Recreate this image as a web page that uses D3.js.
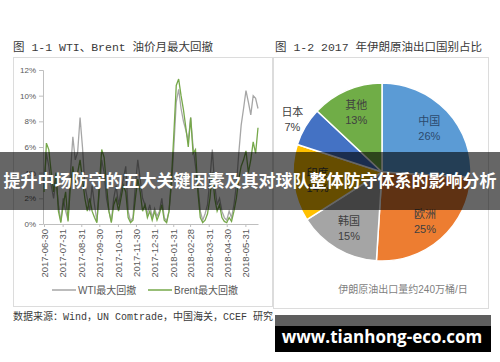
<!DOCTYPE html>
<html>
<head>
<meta charset="utf-8">
<script src="https://d3js.org/d3.v7.min.js"></script>
<style>
  body { margin: 0; background: #fff; }
  svg text { font-family: "Liberation Sans", "Noto Sans CJK SC", sans-serif; }
  .title { font-family: "Liberation Mono", "Noto Sans CJK SC", monospace; font-size: 11.5px; fill: #3a3a3a; }
  .axis path, .axis line { stroke: #bfbfbf; }
  .axis text { fill: #595959; }
</style>
</head>
<body>
<svg id="chart" width="500" height="362"></svg>
<script>
// ---- data ----
const startDate = "2017-06-30", stepDays = 4;

const wti = [3.0, 5.5, 4.5, 3.0, 2.0, 3.5, 1.5, 0.2, 2.0, 1.0,
             0.3, 4.0, 6.8, 5.0, 5.6, 8.3, 6.0, 3.0, 2.0, 1.0,
             3.0, 1.5, 0.2, 2.5, 5.0, 4.0, 2.0, 1.0, 0.2, 2.0,
             3.0, 1.5, 2.5, 3.5, 4.5, 1.0, 0.2, 0.5, 3.0, 5.0,
             3.5, 2.0, 1.5, 0.8, 1.5, 0.5, 1.2, 0.6, 1.0, 2.0,
             0.5, 0.2, 1.0, 3.0, 6.0, 9.5, 10.5, 9.0, 8.0, 7.3,
             6.5, 8.3, 6.0, 4.5, 3.0, 1.0, 0.3, 0.8, 1.5, 3.5,
             5.8, 3.0, 1.5, 2.0, 1.0, 0.5, 0.3, 1.0, 0.5, 1.5,
             3.0, 5.5, 7.7, 9.0, 10.4, 9.5, 8.5, 10.0, 9.8, 9.0];

const brent = [2.5, 6.3, 5.8, 4.0, 2.5, 4.0, 1.0, 0.1, 1.5, 2.5,
               0.2, 3.0, 4.5, 3.0, 4.0, 5.0, 3.5, 2.0, 1.0, 2.0,
               1.0, 0.5, 0.1, 3.0, 5.8, 5.2, 3.0, 1.0, 0.1, 1.5,
               2.0, 1.0, 2.0, 3.0, 2.5, 0.5, 0.1, 0.3, 2.0, 3.5,
               2.5, 1.0, 1.5, 0.5, 1.0, 0.3, 1.0, 0.3, 0.8, 1.5,
               0.3, 0.1, 1.0, 3.5, 7.0, 10.8, 11.3, 10.0, 8.9, 7.5,
               6.0, 8.3, 5.5, 5.8, 2.5, 0.5, 0.1, 0.3, 0.8, 2.0,
               4.0, 2.0, 1.0, 1.5, 0.5, 0.2, 0.1, 0.5, 0.2, 1.0,
               2.0, 3.5, 4.5, 5.0, 5.7, 4.0, 5.0, 6.4, 5.5, 7.5];

const monthTicks = ["2017-06-30", "2017-07-31", "2017-08-31", "2017-09-30", "2017-10-31", "2017-11-30",
                    "2017-12-31", "2018-01-31", "2018-02-28", "2018-03-31", "2018-04-30", "2018-05-31"];
const yTicks = [0, 2, 4, 6, 8, 10, 12];

const countries = ["中国", "欧洲", "韩国", "印度", "日本", "其他"];
const shares = [26, 25, 15, 14, 7, 13];
const sliceColors = ["#5b9bd5", "#ed7d31", "#a5a5a5", "#ffc000", "#4472c4", "#70ad47"];

const svg = d3.select("#chart");
const parse = d3.timeParse("%Y-%m-%d");

// ---- panels & titles ----
svg.append("rect").attr("x", 13.5).attr("y", 57.5).attr("width", 259).attr("height", 249)
   .attr("fill", "none").attr("stroke", "#dcdcdc");
svg.append("rect").attr("x", 273.5).attr("y", 57.5).attr("width", 215).attr("height", 251)
   .attr("fill", "none").attr("stroke", "#dcdcdc");
svg.append("text").attr("class", "title").attr("x", 13).attr("y", 51).text("图 1-1 WTI、Brent 油价月最大回撤");
svg.append("text").attr("class", "title").attr("x", 275).attr("y", 51).text("图 1-2 2017 年伊朗原油出口国别占比");
svg.append("text").attr("class", "title").attr("x", 13).attr("y", 320).style("font-size", "10px")
   .text("数据来源：Wind，UN Comtrade，中国海关，CCEF 研究");

// ---- line chart ----
const t0 = parse(startDate);
const dateAt = i => d3.timeDay.offset(t0, i * stepDays);

const x = d3.scaleTime().domain([t0, dateAt(wti.length - 1)]).range([44, 258]);
const y = d3.scaleLinear().domain([0, 12]).range([224, 70]);

svg.append("g").attr("class", "axis").attr("transform", "translate(43,0)")
   .call(d3.axisLeft(y).tickValues(yTicks).tickSize(4).tickFormat(d => d + "%"))
   .call(g => g.selectAll("text").style("font-size", "8px"));

svg.append("g").attr("class", "axis").attr("transform", "translate(0,224)")
   .call(d3.axisBottom(x).tickValues(monthTicks.map(parse)).tickSize(3).tickSizeOuter(0)
         .tickFormat(d3.timeFormat("%Y-%m-%d")))
   .call(g => g.selectAll("text")
      .style("font-size", "9.5px")
      .attr("x", -5).attr("y", 0).attr("dy", "0.35em")
      .attr("transform", "rotate(-90)")
      .style("text-anchor", "end"));

const line = d3.line().x((d, i) => x(dateAt(i))).y(d => y(d));

svg.append("path").datum(wti).attr("d", line)
   .attr("fill", "none").attr("stroke", "#a6a6a6").attr("stroke-width", 1.3);
svg.append("path").datum(brent).attr("d", line)
   .attr("fill", "none").attr("stroke", "#76a84a").attr("stroke-width", 1.3);

// legend
const legend = [["WTI最大回撤", "#a6a6a6", 52], ["Brent最大回撤", "#76a84a", 148]];
legend.forEach(([name, c, lx]) => {
  svg.append("line").attr("x1", lx).attr("x2", lx + 24).attr("y1", 290).attr("y2", 290)
     .attr("stroke", c).attr("stroke-width", 1.5);
  svg.append("text").attr("x", lx + 26).attr("y", 294).style("font-size", "10px").attr("fill", "#595959").text(name);
});

// ---- pie ----
const cx = 382, cy = 172, r = 89;
const pie = d3.pie().sort(null).value(d => d)(shares);
const arc = d3.arc().innerRadius(0).outerRadius(r);
const labelArc = d3.arc().innerRadius(r * 0.73).outerRadius(r * 0.73);
const outArc = d3.arc().innerRadius(r * 1.17).outerRadius(r * 1.17);

const pg = svg.append("g").attr("transform", `translate(${cx},${cy})`);
pg.selectAll("path").data(pie).join("path")
  .attr("d", arc).attr("fill", (d, i) => sliceColors[i])
  .attr("stroke", "#fff").attr("stroke-width", 1.5);

pie.forEach((d, i) => {
  const small = shares[i] < 10;
  const [lx, ly] = (small ? outArc : labelArc).centroid(d);
  const col = i === 0 ? "#2c4a6e" : "#404040";
  pg.append("text").attr("x", lx).attr("y", ly - 3).attr("text-anchor", "middle")
    .style("font-size", "11px").attr("fill", col).text(countries[i]);
  pg.append("text").attr("x", lx).attr("y", ly + 12).attr("text-anchor", "middle")
    .style("font-size", "11px").attr("fill", col).text(shares[i] + "%");
});

svg.append("text").attr("x", 403).attr("y", 293).attr("text-anchor", "middle")
   .style("font-size", "10px").attr("fill", "#7f7f7f").text("伊朗原油出口量约240万桶/日");

// ---- overlay banners ----
svg.append("rect").attr("x", 0).attr("y", 152).attr("width", 500).attr("height", 58)
   .attr("fill", "rgba(0,0,0,0.6)");
svg.append("text").attr("x", 250).attr("y", 187).attr("text-anchor", "middle")
   .style("font-family", "'Noto Sans CJK SC', sans-serif").style("font-size", "17px")
   .style("font-weight", "bold").attr("fill", "#fff")
   .text("提升中场防守的五大关键因素及其对球队整体防守体系的影响分析");

svg.append("rect").attr("x", 275).attr("y", 315).attr("width", 216).attr("height", 11).attr("fill", "#5e5e5e");
svg.append("rect").attr("x", 275).attr("y", 326).attr("width", 216).attr("height", 26).attr("fill", "#000");
svg.append("text").attr("x", 382).attr("y", 343).attr("text-anchor", "middle")
   .style("font-family", "'Open Sans', sans-serif").style("font-size", "17px")
   .style("font-weight", "bold").attr("fill", "#fff").text("www.tianhong-eco.com");
</script>
</body>
</html>
